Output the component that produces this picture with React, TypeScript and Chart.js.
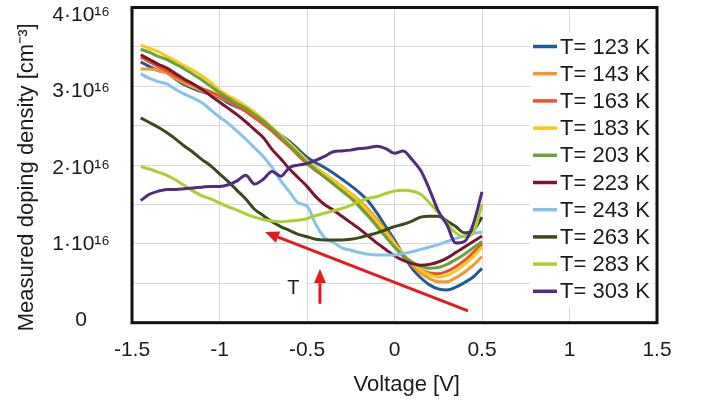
import { useEffect, useRef } from "react";
import { Chart, registerables } from "chart.js";

Chart.register(...registerables);

// Bias voltage (V) at which every temperature sweep is sampled
const voltages = [
  -1.45, -1.4, -1.35, -1.3, -1.25, -1.2, -1.15, -1.1, -1.05, -1.0,
  -0.95, -0.9, -0.85, -0.8, -0.75, -0.7, -0.65, -0.6, -0.55, -0.5,
  -0.45, -0.4, -0.35, -0.3, -0.25, -0.2, -0.15, -0.1, -0.05, 0.0,
  0.05, 0.1, 0.15, 0.2, 0.25, 0.3, 0.35, 0.4, 0.45, 0.5,
];

// Measured doping density in units of 10^16 cm^-3
const density123K = [
  3.31, 3.25, 3.2, 3.17, 3.09, 3.02, 2.97, 2.93, 2.9, 2.86,
  2.79, 2.74, 2.69, 2.61, 2.54, 2.46, 2.38, 2.3, 2.2, 2.1,
  2.03, 1.97, 1.9, 1.82, 1.74, 1.65, 1.54, 1.39, 1.22, 1.05,
  0.86, 0.69, 0.57, 0.48, 0.43, 0.415, 0.45, 0.51, 0.58, 0.69,
];
const density143K = [
  3.22, 3.22, 3.2, 3.17, 3.1, 3.04, 2.99, 2.94, 2.9, 2.87,
  2.81, 2.75, 2.69, 2.62, 2.55, 2.46, 2.37, 2.27, 2.16, 2.05,
  1.97, 1.89, 1.81, 1.73, 1.64, 1.55, 1.44, 1.31, 1.17, 1.02,
  0.87, 0.73, 0.63, 0.56, 0.52, 0.52, 0.57, 0.64, 0.73, 0.84,
];
const density163K = [
  3.37, 3.31, 3.25, 3.19, 3.13, 3.07, 3.02, 2.97, 2.93, 2.88,
  2.82, 2.75, 2.68, 2.6, 2.52, 2.43, 2.33, 2.23, 2.12, 2.02,
  1.93, 1.85, 1.77, 1.69, 1.6, 1.5, 1.38, 1.25, 1.11, 0.97,
  0.84, 0.74, 0.67, 0.63, 0.62, 0.65, 0.71, 0.79, 0.89, 1.0,
];
const density183K = [
  3.52, 3.48, 3.44, 3.38, 3.32, 3.26, 3.2, 3.13, 3.05, 2.95,
  2.88, 2.82, 2.75, 2.67, 2.58, 2.48, 2.38, 2.28, 2.17, 2.06,
  1.97, 1.89, 1.81, 1.72, 1.63, 1.53, 1.41, 1.28, 1.14, 1.0,
  0.87, 0.75, 0.67, 0.61, 0.58, 0.6, 0.66, 0.74, 0.84, 0.96,
];
const density203K = [
  3.47, 3.43, 3.38, 3.34, 3.28, 3.22, 3.15, 3.08, 3.0, 2.92,
  2.85, 2.78, 2.72, 2.64, 2.56, 2.46, 2.36, 2.25, 2.14, 2.03,
  1.94, 1.85, 1.76, 1.67, 1.58, 1.47, 1.35, 1.22, 1.09, 0.96,
  0.85, 0.77, 0.72, 0.69, 0.7, 0.74, 0.8, 0.87, 0.95, 1.03,
];
const density223K = [
  3.4, 3.34, 3.28, 3.23, 3.16, 3.09, 3.03, 2.96, 2.88, 2.8,
  2.72, 2.64, 2.55, 2.45, 2.35, 2.2, 2.08, 1.95, 1.84, 1.73,
  1.6, 1.5, 1.43, 1.35, 1.27, 1.19, 1.1, 1.01, 0.93, 0.85,
  0.79, 0.75, 0.73, 0.74, 0.77, 0.82, 0.89, 0.96, 1.03, 1.1,
];
const density243K = [
  3.16, 3.1, 3.06, 3.03, 2.96, 2.9, 2.85, 2.79, 2.7, 2.61,
  2.53, 2.43, 2.33, 2.22, 2.11, 1.97, 1.8, 1.66, 1.52, 1.48,
  1.25, 1.08, 1.02, 0.95, 0.92, 0.89, 0.87, 0.86, 0.86, 0.86,
  0.88, 0.9, 0.93, 0.96, 0.99, 1.03, 1.07, 1.1, 1.13, 1.15,
];
const density263K = [
  2.6, 2.54, 2.48, 2.41, 2.33, 2.24, 2.16, 2.07, 1.99, 1.89,
  1.79, 1.68, 1.57, 1.44, 1.36, 1.28, 1.22, 1.17, 1.12, 1.09,
  1.06, 1.05, 1.05, 1.05, 1.06, 1.08, 1.11, 1.14, 1.18, 1.22,
  1.25, 1.29, 1.34, 1.35, 1.35, 1.29, 1.22, 1.14, 1.17, 1.34,
];
const density283K = [
  1.98, 1.95, 1.91, 1.87, 1.81, 1.74, 1.67, 1.61, 1.57, 1.52,
  1.47, 1.43, 1.38, 1.34, 1.31, 1.29, 1.28, 1.29, 1.3, 1.32,
  1.36, 1.39, 1.42, 1.45, 1.49, 1.54, 1.58, 1.6, 1.64, 1.67,
  1.68, 1.67, 1.63, 1.52, 1.4, 1.26, 1.14, 1.09, 1.14, 1.5,
];
const density303K = [
  1.55, 1.63, 1.67, 1.69, 1.69, 1.7, 1.71, 1.72, 1.73, 1.73,
  1.75, 1.8, 1.87, 1.76, 1.82, 1.92, 1.86, 1.97, 2.0, 2.02,
  2.06, 2.11, 2.17, 2.18, 2.19, 2.21, 2.22, 2.24, 2.21, 2.15,
  2.18, 2.07, 1.93, 1.69, 1.42, 1.24, 1.01, 1.03, 1.25, 1.66,
];

const temperatures = [123, 143, 163, 183, 203, 223, 243, 263, 283, 303];
const densitySeries = [
  density123K, density143K, density163K, density183K, density203K,
  density223K, density243K, density263K, density283K, density303K,
];
const seriesColors = [
  "#1f5b95", "#f7962e", "#ea5428", "#fcc716", "#67a23a",
  "#7a1730", "#86c3ea", "#394a1b", "#a8d032", "#4f2c80",
];

// Axis ticks
const voltageTicks = [-1.5, -1, -0.5, 0, 0.5, 1, 1.5];
const densityTicks = [0, 1, 2, 3, 4];

// Annotation anchors in data units (V, 10^16 cm^-3)
const trendArrow = { from: [0.42, 0.15], to: [-0.74, 1.15] };
const temperatureArrow = { from: [-0.426, 0.24], to: [-0.426, 0.68] };
const temperatureLabel = { text: "T", at: [-0.578, 0.44] };

const FONT = "'Liberation Sans', Arial, sans-serif";
const TEXT_COLOR = "#1b1b1b";
const NBSP4 = "\u00a0\u00a0\u00a0\u00a0";

const frameBorder = {
  id: "frameBorder",
  beforeDatasetsDraw(chart: any) {
    const { ctx, chartArea } = chart;
    ctx.save();
    ctx.strokeStyle = "#111111";
    ctx.lineWidth = 3;
    ctx.strokeRect(
      chartArea.left,
      chartArea.top,
      chartArea.right - chartArea.left,
      chartArea.bottom - chartArea.top
    );
    ctx.restore();
  },
};

function drawArrow(ctx: CanvasRenderingContext2D, x0: number, y0: number, x1: number, y1: number) {
  const angle = Math.atan2(y1 - y0, x1 - x0);
  const headLen = 14;
  const headHalf = 6;
  const bx = x1 - headLen * Math.cos(angle);
  const by = y1 - headLen * Math.sin(angle);
  ctx.beginPath();
  ctx.moveTo(x0, y0);
  ctx.lineTo(bx, by);
  ctx.stroke();
  ctx.beginPath();
  ctx.moveTo(x1, y1);
  ctx.lineTo(bx + headHalf * Math.sin(angle), by - headHalf * Math.cos(angle));
  ctx.lineTo(bx - headHalf * Math.sin(angle), by + headHalf * Math.cos(angle));
  ctx.closePath();
  ctx.fill();
}

const annotations = {
  id: "annotations",
  afterDatasetsDraw(chart: any) {
    const { ctx, scales } = chart;
    const px = (v: number) => scales.x.getPixelForValue(v);
    const py = (v: number) => scales.y.getPixelForValue(v);
    ctx.save();
    ctx.strokeStyle = "#e8191c";
    ctx.fillStyle = "#e8191c";
    ctx.lineWidth = 3;
    ctx.lineCap = "butt";
    drawArrow(ctx, px(trendArrow.from[0]), py(trendArrow.from[1]), px(trendArrow.to[0]), py(trendArrow.to[1]));
    drawArrow(
      ctx,
      px(temperatureArrow.from[0]),
      py(temperatureArrow.from[1]),
      px(temperatureArrow.to[0]),
      py(temperatureArrow.to[1])
    );
    const tx = px(temperatureLabel.at[0]);
    const ty = py(temperatureLabel.at[1]);
    ctx.fillStyle = "#ffffff";
    ctx.fillRect(tx - 13, ty - 13, 26, 26);
    ctx.fillStyle = TEXT_COLOR;
    ctx.font = `20px ${FONT}`;
    ctx.textAlign = "center";
    ctx.textBaseline = "middle";
    ctx.fillText(temperatureLabel.text, tx, ty);
    ctx.restore();
  },
};

const insetLegend = {
  id: "insetLegend",
  afterDraw(chart: any) {
    const { ctx, chartArea } = chart;
    const left = chartArea.right - 127;
    const top = chartArea.top + 25;
    const rowHeight = 27.2;
    ctx.save();
    ctx.fillStyle = "#ffffff";
    ctx.fillRect(left, top, 124, rowHeight * 10 + 2);
    ctx.font = `22px ${FONT}`;
    ctx.textAlign = "left";
    ctx.textBaseline = "middle";
    chart.data.datasets.forEach((ds: any, i: number) => {
      const y = top + 14 + i * rowHeight;
      ctx.strokeStyle = ds.borderColor;
      ctx.lineWidth = 3.5;
      ctx.beginPath();
      ctx.moveTo(left + 3, y);
      ctx.lineTo(left + 27, y);
      ctx.stroke();
      ctx.fillStyle = TEXT_COLOR;
      ctx.fillText(ds.label, left + 30, y + 1);
    });
    ctx.restore();
  },
};

export default function App() {
  const canvasRef = useRef<HTMLCanvasElement | null>(null);

  useEffect(() => {
    if (!canvasRef.current) return;
    Chart.defaults.font.family = FONT;
    const datasets = densitySeries.map((values, i) => ({
      label: `T= ${temperatures[i]} K`,
      data: voltages.map((v, j) => ({ x: v, y: values[j] })),
      borderColor: seriesColors[i],
      backgroundColor: seriesColors[i],
      borderWidth: 3,
      pointRadius: 0,
      cubicInterpolationMode: "monotone" as const,
      borderJoinStyle: "round" as const,
      order: densitySeries.length - 1 - i,
    }));

    const chart = new Chart(canvasRef.current, {
      type: "line",
      data: { datasets },
      plugins: [frameBorder, annotations, insetLegend],
      options: {
        responsive: false,
        animation: false,
        layout: { padding: { top: 7.5, right: 45, bottom: 0, left: 0 } },
        plugins: { legend: { display: false }, tooltip: { enabled: false } },
        scales: {
          x: {
            type: "linear",
            min: voltageTicks[0],
            max: voltageTicks[voltageTicks.length - 1],
            afterBuildTicks: (scale: any) => {
              scale.ticks = voltageTicks.map((value) => ({ value }));
            },
            afterFit: (scale: any) => {
              scale.height = 77.3;
            },
            grid: { color: "#d9d9d9", lineWidth: 1, drawTicks: false },
            border: { display: false },
            ticks: {
              padding: 15,
              color: TEXT_COLOR,
              font: { size: 21, family: FONT },
              callback: (v: any) => String(Math.round(Number(v) * 10) / 10),
            },
            title: {
              display: true,
              text: NBSP4 + "Voltage [V]",
              color: TEXT_COLOR,
              font: { size: 22, family: FONT },
              padding: { top: 0, bottom: 2 },
            },
          },
          // value axis: carries the grid (every 0.5·10¹⁶) and the data
          y: {
            type: "linear",
            position: "left",
            weight: 0,
            min: 0,
            max: 4,
            ticks: { display: false, stepSize: 0.5, autoSkip: false },
            afterFit: (scale: any) => {
              scale.width = 0;
              scale.paddingTop = 0;
              scale.paddingBottom = 0;
            },
            grid: { color: "#d9d9d9", lineWidth: 1, drawTicks: false },
            border: { display: false },
          },
          // label axis: tick texts and axis title, set slightly tighter than the grid
          densityLabels: {
            type: "linear",
            position: "left",
            weight: 1,
            min: -0.035,
            max: 4.105,
            afterBuildTicks: (scale: any) => {
              scale.ticks = densityTicks.map((value) => ({ value }));
            },
            ticks: {
              autoSkip: false,
              padding: 22,
              crossAlign: "center",
              color: TEXT_COLOR,
              font: { size: 21, family: FONT },
              callback: (v: any) => {
                const n = Math.round(Number(v));
                return n === 0 ? "0" : `${n}·10¹⁶`;
              },
            },
            afterFit: (scale: any) => {
              scale.width = 132;
              scale.paddingTop = 0;
              scale.paddingBottom = 0;
            },
            grid: { display: false, drawTicks: false },
            border: { display: false },
            title: {
              display: true,
              text: "Measured doping density [cm⁻³]" + NBSP4,
              color: TEXT_COLOR,
              font: { size: 22, family: FONT },
              padding: { top: 14, bottom: 0 },
            },
          },
        },
      },
    });
    return () => chart.destroy();
  }, []);

  return (
    <div style={{ position: "absolute", left: 0, top: 0, width: 702, height: 400, background: "#ffffff" }}>
      <canvas ref={canvasRef} width={702} height={400} style={{ display: "block" }} />
    </div>
  );
}
